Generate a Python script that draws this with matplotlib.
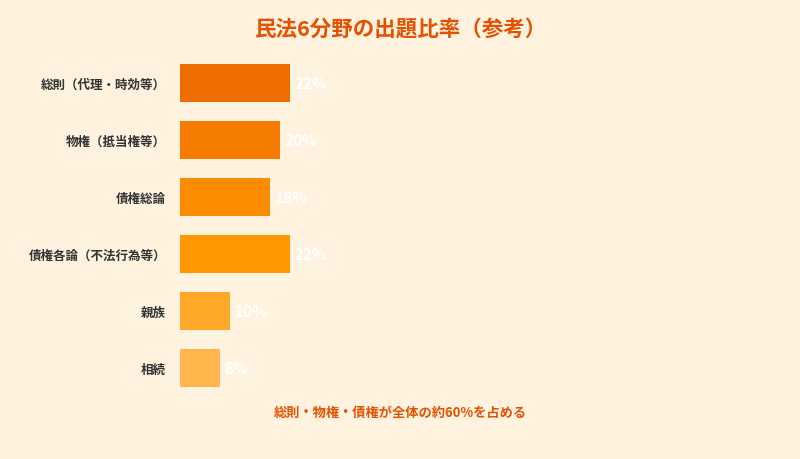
import matplotlib
matplotlib.use('Agg')
import matplotlib.pyplot as plt

plt.rcParams['font.family'] = ['Noto Sans CJK JP', 'DejaVu Sans']

# データ
categories = ['総則（代理・時効等）', '物権（抵当権等）', '債権総論', '債権各論（不法行為等）', '親族', '相続']
shares = [22, 20, 18, 22, 10, 8]
bar_colors = ['#EF6C00', '#F57C00', '#FB8C00', '#FF9800', '#FFA726', '#FFB74D']

BG = '#FFF3E0'

fig = plt.figure(figsize=(8, 4.6), dpi=100)
fig.patch.set_facecolor(BG)

# 軸の位置（ピクセル基準）
left, right, top, bottom = 180, 780, 55.5, 397.5
ax = fig.add_axes([left / 800, 1 - bottom / 460, (right - left) / 800, (bottom - top) / 460])
ax.set_facecolor(BG)

y = list(range(len(categories)))
ax.barh(y, shares, height=0.66, color=bar_colors)
ax.set_xlim(0, 120)
ax.set_ylim(len(categories) - 0.5, -0.5)

for yi, v in zip(y, shares):
    ax.text(v + 0.9, yi, f'{v}%', va='center', ha='left', color='white',
            fontsize=11, fontweight='bold')

ax.set_yticks(y)
ax.set_yticklabels(categories, fontsize=9, fontweight='bold', color='#333333')
ax.tick_params(axis='y', length=0, pad=10)
ax.set_xticks([])
for s in ax.spines.values():
    s.set_visible(False)

# タイトルと注記
fig.text(0.5, 1 - 30 / 460, '民法6分野の出題比率（参考）', ha='center', va='center',
         fontsize=15.5, fontweight='bold', color='#E65100')
fig.text(0.5, 1 - 413 / 460, '総則・物権・債権が全体の約60%を占める', ha='center', va='center',
         fontsize=9.5, fontweight='bold', color='#E65100')

plt.savefig('out.png', dpi=100, facecolor=BG)
